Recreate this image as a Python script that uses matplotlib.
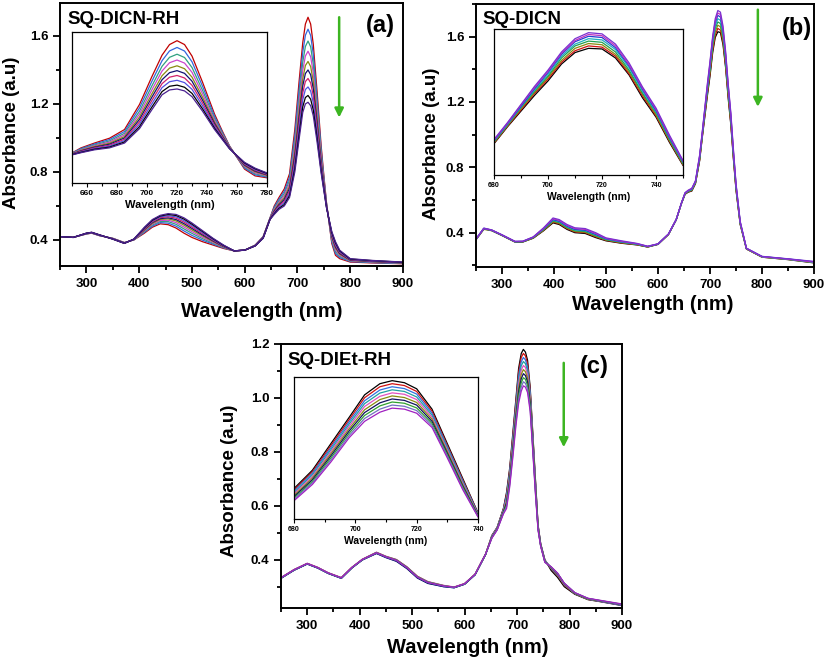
import numpy as np
import matplotlib
matplotlib.use('Agg')
import matplotlib.pyplot as plt
from matplotlib.ticker import MultipleLocator

plt.rcParams['font.family'] = ['Liberation Sans', 'DejaVu Sans']
plt.rcParams['font.weight'] = 'bold'

# ---- panel (a): SQ-DICN-RH, rows = wavelength, columns = successive scans
wl_a = [250, 275, 300, 310, 325, 350, 372, 390, 410, 425, 440, 455, 470, 485, 500, 520, 540,
        560, 580, 600, 620, 635, 648, 656, 665, 675, 685, 695, 703, 710, 715, 720, 725, 730,
        737, 745, 750, 755, 760, 765, 772, 780, 800, 840, 900]
abs_a = [
    [.42, .42, .42, .42, .42, .42, .42, .42, .42, .42],
    [.415, .415, .415, .415, .415, .415, .415, .415, .415, .415],
    [.435, .436, .436, .437, .438, .438, .439, .439, .44, .44],
    [.44, .441, .441, .442, .443, .443, .444, .444, .445, .445],
    [.425, .426, .426, .427, .428, .428, .429, .429, .43, .43],
    [.41, .409, .409, .408, .407, .407, .406, .406, .405, .405],
    [.385, .384, .384, .383, .382, .382, .381, .381, .38, .38],
    [.40, .401, .401, .402, .403, .403, .404, .404, .405, .405],
    [.44, .445, .45, .454, .458, .462, .465, .469, .472, .475],
    [.475, .481, .488, .493, .498, .503, .507, .512, .516, .52],
    [.495, .502, .509, .515, .521, .526, .531, .536, .541, .545],
    [.49, .499, .508, .516, .524, .53, .537, .543, .55, .555],
    [.47, .481, .492, .502, .512, .52, .528, .536, .544, .55],
    [.44, .453, .465, .476, .487, .496, .505, .514, .523, .53],
    [.415, .427, .439, .449, .459, .468, .476, .485, .493, .50],
    [.39, .399, .408, .416, .424, .43, .437, .443, .45, .455],
    [.37, .376, .381, .386, .391, .395, .399, .403, .407, .41],
    [.35, .353, .356, .358, .36, .362, .364, .366, .368, .37],
    [.336, .336, .336, .336, .336, .336, .336, .336, .336, .336],
    [.34, .34, .34, .34, .34, .34, .34, .34, .34, .34],
    [.37, .369, .369, .368, .367, .367, .366, .366, .365, .365],
    [.42, .419, .417, .416, .415, .414, .413, .412, .411, .41],
    [.53, .529, .527, .526, .525, .524, .523, .522, .521, .52],
    [.60, .593, .586, .58, .574, .569, .564, .559, .554, .55],
    [.65, .64, .63, .622, .614, .607, .60, .593, .586, .58],
    [.70, .686, .672, .66, .648, .638, .628, .618, .608, .60],
    [.79, .77, .751, .734, .717, .703, .689, .675, .661, .65],
    [1.05, 1.015, .98, .95, .92, .895, .87, .845, .82, .80],
    [1.33, 1.282, 1.235, 1.194, 1.153, 1.119, 1.085, 1.051, 1.017, .99],
    [1.56, 1.503, 1.445, 1.396, 1.347, 1.306, 1.265, 1.224, 1.183, 1.15],
    [1.67, 1.604, 1.538, 1.482, 1.426, 1.379, 1.332, 1.285, 1.238, 1.20],
    [1.71, 1.64, 1.57, 1.51, 1.45, 1.40, 1.35, 1.30, 1.25, 1.21],
    [1.67, 1.603, 1.536, 1.478, 1.42, 1.372, 1.324, 1.276, 1.228, 1.19],
    [1.55, 1.491, 1.432, 1.382, 1.332, 1.29, 1.248, 1.206, 1.164, 1.13],
    [1.28, 1.238, 1.196, 1.16, 1.124, 1.094, 1.064, 1.034, 1.004, .98],
    [.95, .928, .905, .886, .867, .851, .835, .819, .803, .79],
    [.78, .767, .755, .744, .733, .724, .715, .706, .697, .69],
    [.62, .616, .612, .608, .604, .601, .598, .595, .592, .59],
    [.50, .503, .506, .508, .51, .512, .514, .516, .518, .52],
    [.38, .39, .40, .408, .416, .423, .43, .437, .444, .45],
    [.31, .321, .332, .342, .352, .36, .368, .376, .384, .39],
    [.29, .297, .304, .31, .316, .321, .326, .331, .336, .34],
    [.27, .273, .276, .278, .28, .282, .284, .286, .288, .29],
    [.265, .267, .269, .271, .273, .274, .276, .277, .279, .28],
    [.26, .261, .263, .264, .265, .266, .267, .268, .269, .27],
]
colors_a = ['#c00000', '#3366dd', '#30a080', '#cc44cc', '#8a8a10', '#101070',
            '#d0206a', '#5050e0', '#000000', '#4a2090']

# ---- panel (b): SQ-DICN
wl_b = [250, 265, 280, 300, 325, 340, 360, 380, 398, 410, 425, 440, 460, 480, 500, 530, 560,
        580, 600, 620, 635, 645, 652, 658, 665, 672, 680, 685, 690, 695, 700, 705, 710, 715,
        720, 725, 730, 735, 740, 745, 750, 758, 770, 800, 850, 900]
abs_b = [
    [.358, .36, .356, .36, .362, .358, .36, .362],
    [.423, .425, .42, .425, .427, .424, .426, .428],
    [.413, .415, .412, .415, .416, .414, .416, .417],
    [.383, .385, .382, .385, .386, .384, .386, .387],
    [.343, .345, .342, .345, .346, .344, .346, .347],
    [.343, .345, .343, .345, .347, .345, .347, .348],
    [.366, .368, .367, .37, .372, .371, .373, .374],
    [.412, .415, .416, .42, .423, .424, .427, .43],
    [.46, .465, .468, .472, .477, .48, .485, .49],
    [.45, .455, .458, .462, .467, .47, .475, .48],
    [.42, .425, .428, .432, .437, .44, .445, .45],
    [.40, .405, .408, .412, .417, .42, .425, .43],
    [.395, .40, .403, .407, .412, .415, .42, .425],
    [.37, .375, .378, .382, .387, .39, .395, .40],
    [.35, .353, .355, .357, .36, .362, .365, .368],
    [.335, .337, .339, .341, .343, .345, .347, .35],
    [.325, .326, .327, .328, .33, .331, .332, .334],
    [.312, .313, .313, .314, .315, .315, .316, .317],
    [.328, .33, .329, .33, .331, .33, .331, .332],
    [.388, .39, .389, .39, .391, .39, .391, .392],
    [.478, .48, .479, .48, .481, .48, .481, .482],
    [.578, .58, .579, .58, .581, .58, .581, .582],
    [.635, .638, .637, .64, .642, .641, .643, .645],
    [.648, .65, .651, .653, .655, .656, .658, .66],
    [.655, .658, .66, .662, .665, .667, .67, .672],
    [.70, .703, .705, .708, .71, .713, .715, .718],
    [.84, .845, .85, .855, .86, .865, .87, .875],
    [.98, .985, .99, .995, 1.0, 1.005, 1.01, 1.015],
    [1.11, 1.12, 1.13, 1.14, 1.145, 1.15, 1.16, 1.165],
    [1.24, 1.255, 1.265, 1.275, 1.285, 1.295, 1.305, 1.315],
    [1.36, 1.375, 1.39, 1.40, 1.415, 1.43, 1.44, 1.45],
    [1.50, 1.515, 1.53, 1.55, 1.565, 1.58, 1.59, 1.60],
    [1.595, 1.61, 1.63, 1.65, 1.665, 1.685, 1.695, 1.71],
    [1.63, 1.65, 1.67, 1.69, 1.71, 1.73, 1.745, 1.76],
    [1.625, 1.64, 1.66, 1.68, 1.70, 1.72, 1.735, 1.75],
    [1.55, 1.565, 1.58, 1.60, 1.62, 1.635, 1.65, 1.665],
    [1.41, 1.42, 1.435, 1.45, 1.47, 1.485, 1.495, 1.51],
    [1.22, 1.235, 1.25, 1.26, 1.275, 1.29, 1.30, 1.31],
    [1.06, 1.07, 1.08, 1.095, 1.105, 1.115, 1.125, 1.135],
    [.85, .86, .865, .875, .885, .89, .90, .91],
    [.66, .665, .67, .675, .685, .69, .695, .70],
    [.45, .455, .455, .46, .46, .465, .465, .47],
    [.30, .30, .302, .302, .303, .304, .304, .305],
    [.25, .252, .25, .253, .252, .254, .253, .255],
    [.235, .237, .236, .238, .237, .239, .238, .24],
    [.215, .218, .216, .22, .218, .222, .22, .224],
]
colors_b = ['#000000', '#d01010', '#8a8a10', '#20a050', '#20b0c0', '#2040d0', '#c030c0', '#7a30d0']

# ---- panel (c): SQ-DIEt-RH
wl_c = [250, 275, 300, 320, 340, 365, 385, 405, 432, 450, 470, 490, 510, 530, 560, 580, 600,
        620, 640, 652, 662, 674, 680, 686, 692, 698, 703, 708, 712, 716, 720, 725, 730, 735,
        740, 745, 753, 765, 777, 790, 810, 835, 860, 900]
abs_c = [
    [.332, .333, .331, .332, .334, .332, .331, .333, .332, .333],
    [.362, .363, .361, .362, .364, .362, .361, .363, .362, .363],
    [.385, .386, .384, .385, .387, .385, .384, .386, .385, .386],
    [.37, .371, .369, .37, .372, .37, .369, .371, .37, .371],
    [.35, .351, .349, .35, .352, .35, .349, .351, .35, .351],
    [.332, .333, .331, .332, .334, .332, .331, .333, .332, .333],
    [.37, .371, .369, .37, .372, .37, .369, .371, .37, .371],
    [.40, .401, .399, .40, .402, .40, .399, .401, .40, .401],
    [.425, .427, .424, .426, .428, .425, .423, .427, .425, .426],
    [.41, .412, .408, .411, .413, .41, .408, .412, .41, .411],
    [.397, .40, .395, .398, .401, .397, .394, .40, .397, .398],
    [.37, .373, .368, .371, .374, .37, .367, .373, .37, .371],
    [.335, .338, .333, .336, .339, .335, .332, .338, .335, .336],
    [.315, .318, .313, .316, .319, .315, .312, .318, .315, .316],
    [.302, .304, .30, .303, .305, .302, .30, .304, .302, .303],
    [.297, .298, .296, .297, .299, .297, .296, .298, .297, .298],
    [.31, .311, .309, .31, .312, .31, .309, .311, .31, .311],
    [.345, .346, .344, .345, .347, .345, .344, .346, .345, .346],
    [.42, .421, .419, .42, .422, .42, .419, .421, .42, .421],
    [.49, .489, .488, .487, .486, .484, .483, .482, .481, .48],
    [.52, .519, .518, .517, .516, .514, .513, .512, .511, .51],
    [.59, .588, .586, .583, .581, .579, .577, .574, .572, .57],
    [.65, .643, .637, .63, .624, .616, .61, .603, .597, .59],
    [.74, .732, .725, .717, .709, .701, .693, .685, .678, .67],
    [.87, .86, .85, .84, .83, .82, .81, .80, .79, .78],
    [1.0, .989, .978, .967, .956, .944, .933, .922, .911, .90],
    [1.11, 1.096, 1.081, 1.067, 1.053, 1.037, 1.023, 1.009, .994, .98],
    [1.165, 1.15, 1.134, 1.119, 1.103, 1.087, 1.071, 1.056, 1.04, 1.025],
    [1.18, 1.165, 1.15, 1.135, 1.12, 1.105, 1.09, 1.075, 1.06, 1.045],
    [1.17, 1.156, 1.141, 1.127, 1.113, 1.097, 1.083, 1.069, 1.054, 1.04],
    [1.14, 1.127, 1.114, 1.10, 1.087, 1.073, 1.06, 1.046, 1.033, 1.02],
    [1.04, 1.03, 1.02, 1.01, 1.0, .99, .98, .97, .96, .95],
    [.87, .862, .855, .847, .839, .831, .823, .815, .808, .80],
    [.70, .694, .688, .682, .676, .669, .663, .657, .651, .645],
    [.53, .528, .526, .523, .521, .519, .517, .514, .512, .51],
    [.46, .459, .458, .457, .456, .454, .453, .452, .451, .45],
    [.40, .399, .398, .397, .396, .394, .393, .392, .391, .39],
    [.36, .366, .368, .37, .37, .371, .372, .372, .373, .374],
    [.335, .342, .345, .346, .347, .348, .349, .35, .35, .351],
    [.30, .305, .308, .309, .31, .311, .312, .312, .313, .313],
    [.272, .274, .275, .275, .276, .276, .277, .277, .278, .278],
    [.252, .253, .254, .254, .255, .255, .256, .256, .257, .257],
    [.244, .245, .245, .246, .246, .247, .247, .248, .248, .249],
    [.23, .232, .231, .233, .232, .234, .233, .235, .234, .236],
]
colors_c = ['#000000', '#d01010', '#3070e0', '#20a0a0', '#e050c0', '#8a8a10',
            '#101060', '#30a030', '#7070c0', '#a020c0']

ARROW_GREEN = '#3cb521'


def style_axes(ax, lw=1.4):
    for s in ax.spines.values():
        s.set_linewidth(lw)


def panel(fig, rect, inset_rect, wl, rows, colors, ylim, ymajor, yminor,
          ixlim, iylim, ixmajor, name, tag, name_xy, tag_xy, arrow,
          xlab_xy, ylab_xy, itick_fs, ilab_fs):
    spectra = np.array(rows).T
    ax = fig.add_axes(rect)
    for y, c in zip(spectra, colors):
        ax.plot(wl, y, color=c, lw=0.9)
    ax.set_xlim(250, 900)
    ax.set_ylim(*ylim)
    ax.xaxis.set_major_locator(MultipleLocator(100))
    ax.xaxis.set_minor_locator(MultipleLocator(50))
    ax.yaxis.set_major_locator(MultipleLocator(ymajor))
    ax.yaxis.set_minor_locator(MultipleLocator(yminor))
    ax.set_yticks([t for t in ax.get_yticks() if t >= 0.39 and t <= ylim[1]])
    ax.tick_params(which='both', direction='out', labelsize=9.5, width=1.3)
    ax.tick_params(which='major', length=5)
    ax.tick_params(which='minor', length=3)
    for lbl in ax.get_xticklabels() + ax.get_yticklabels():
        lbl.set_fontweight('bold')
    style_axes(ax)
    ax.set_xlabel('Wavelength (nm)', fontsize=14.5, fontweight='bold')
    ax.set_ylabel('Absorbance (a.u)', fontsize=13.5, fontweight='bold')
    ax.xaxis.set_label_coords(*xlab_xy)
    ax.yaxis.set_label_coords(*ylab_xy)
    ax.text(*name_xy, name, transform=ax.transAxes, fontsize=13.5, fontweight='bold',
            ha='left', va='center')
    ax.text(*tag_xy, tag, transform=ax.transAxes, fontsize=17, fontweight='bold',
            ha='center', va='center')
    ax.annotate('', xy=(arrow[0], arrow[2]), xytext=(arrow[0], arrow[1]),
                arrowprops=dict(arrowstyle='-|>', color=ARROW_GREEN, lw=1.8,
                                mutation_scale=13, shrinkA=0, shrinkB=0))

    ins = fig.add_axes(inset_rect)
    for y, c in zip(spectra, colors):
        ins.plot(wl, y, color=c, lw=0.9)
    ins.set_xlim(*ixlim)
    ins.set_ylim(*iylim)
    ins.xaxis.set_major_locator(MultipleLocator(ixmajor))
    ins.xaxis.set_minor_locator(MultipleLocator(ixmajor / 2))
    ins.set_yticks([])
    ins.tick_params(axis='x', which='both', direction='out', labelsize=itick_fs,
                    width=0.8, pad=2)
    ins.tick_params(axis='x', which='major', length=3)
    ins.tick_params(axis='x', which='minor', length=2)
    for lbl in ins.get_xticklabels():
        lbl.set_fontweight('bold')
    style_axes(ins, 0.9)
    ins.set_xlabel('Wavelength (nm)', fontsize=ilab_fs, fontweight='bold', labelpad=2)
    return ax, ins


fig = plt.figure(figsize=(8.25, 6.6), dpi=100)

panel(fig, [0.0727, 0.597, 0.4158, 0.3985], [0.0873, 0.7227, 0.2364, 0.2288],
      wl_a, abs_a, colors_a, (0.247, 1.794), 0.4, 0.2,
      (650, 780), (0.236, 1.80), 20, 'SQ-DICN-RH', '(a)',
      (0.022, 0.937), (0.933, 0.916), (779, 1.71, 1.12),
      (0.589, -0.138), (-0.117, 0.506), 6, 8)

panel(fig, [0.577, 0.5955, 0.4097, 0.3985], [0.5988, 0.7348, 0.2291, 0.2212],
      wl_b, abs_b, colors_b, (0.19, 1.80), 0.4, 0.2,
      (680, 750), (0.58, 1.79), 20, 'SQ-DICN', '(b)',
      (0.018, 0.94), (0.95, 0.905), (792, 1.765, 1.17),
      (0.522, -0.107), (-0.107, 0.468), 5, 7.5)

panel(fig, [0.3406, 0.0788, 0.4133, 0.40], [0.3564, 0.2136, 0.2230, 0.2152],
      wl_c, abs_c, colors_c, (0.221, 1.2), 0.2, 0.1,
      (680, 740), (0.50, 1.198), 20, 'SQ-DIEt-RH', '(c)',
      (0.02, 0.936), (0.92, 0.913), (789, 1.13, 0.817),
      (0.547, -0.114), (-0.126, 0.48), 5, 7.5)

fig.savefig('out.png', dpi=100)
